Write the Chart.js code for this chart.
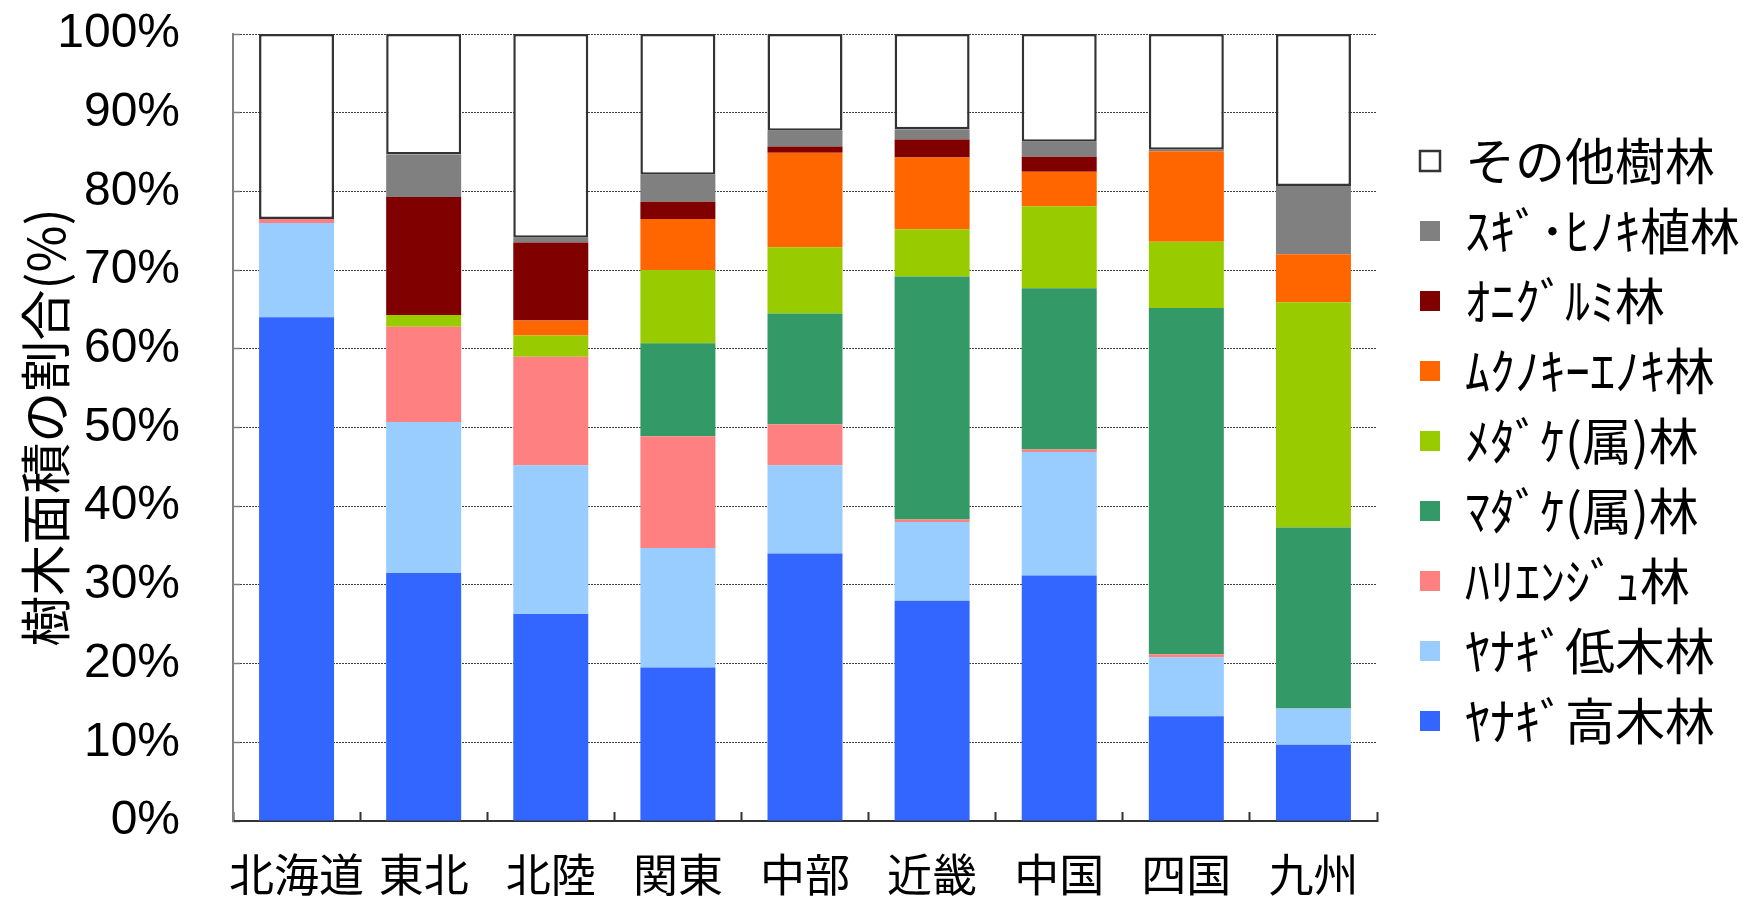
<!DOCTYPE html>
<html>
<head>
<meta charset="utf-8">
<script src="https://cdn.jsdelivr.net/npm/chart.js@4.4.1/dist/chart.umd.min.js"></script>
<style>
html,body{margin:0;padding:0;background:#ffffff;overflow:hidden;width:1763px;height:900px;}
#c{display:block;}
</style>
</head>
<body>
<canvas id="c" width="1763" height="900"></canvas>
<script>
// ---- data ----
const categories = ['北海道','東北','北陸','関東','中部','近畿','中国','四国','九州'];
const seriesNames = ['ﾔﾅｷﾞ高木林','ﾔﾅｷﾞ低木林','ﾊﾘｴﾝｼﾞｭ林','ﾏﾀﾞｹ(属)林','ﾒﾀﾞｹ(属)林','ﾑｸﾉｷｰｴﾉｷ林','ｵﾆｸﾞﾙﾐ林','ｽｷﾞ･ﾋﾉｷ植林','その他樹林'];
const yanagiKoboku  = [64.0, 31.5, 26.3, 19.5, 34.0, 28.0, 31.2, 13.3,  9.7];
const yanagiTeiboku = [12.0, 19.2, 18.9, 15.2, 11.2, 10.0, 15.7,  7.5,  4.6];
const harienju      = [ 0.5, 12.1, 13.8, 14.2,  5.2,  0.3,  0.3,  0.4,  0.0];
const madake        = [ 0.0,  0.0,  0.0, 11.8, 14.1, 30.9, 20.5, 44.0, 23.0];
const medake        = [ 0.0,  1.5,  2.7,  9.3,  8.4,  6.0, 10.4,  8.4, 28.6];
const mukunokiEnoki = [ 0.0,  0.0,  1.9,  6.5, 12.0,  9.1,  4.4, 11.5,  6.1];
const onigurumi     = [ 0.0, 15.0,  9.9,  2.2,  0.8,  2.3,  1.9,  0.0,  0.0];
const sugiHinoki    = [ 0.0,  5.4,  0.6,  3.4,  2.0,  1.3,  1.9,  0.2,  8.7];
const sonota        = [23.5, 15.3, 25.9, 17.9, 12.3, 12.1, 13.7, 14.7, 19.3];
const yTickLabels = ['0%','10%','20%','30%','40%','50%','60%','70%','80%','90%','100%'];
const yTitle = '樹木面積の割合(%)';

const seriesValues = [yanagiKoboku, yanagiTeiboku, harienju, madake, medake, mukunokiEnoki, onigurumi, sugiHinoki, sonota];
const seriesColors = ['#3366FF','#99CCFF','#FF8080','#339966','#99CC00','#FF6600','#800000','#808080','#FFFFFF'];

const cjk = "'Noto Sans CJK JP', 'Noto Sans', sans-serif";

new Chart(document.getElementById('c'), {
  type: 'bar',
  data: {
    labels: categories,
    datasets: seriesValues.map((vals, i) => ({
      label: seriesNames[i],
      data: vals,
      backgroundColor: seriesColors[i],
      borderColor: i === 8 ? '#333333' : seriesColors[i],
      borderWidth: i === 8 ? 2.5 : 0,
      borderSkipped: false,
      barPercentage: 0.59,
      categoryPercentage: 1.0
    }))
  },
  options: {
    responsive: false,
    devicePixelRatio: 1,
    animation: false,
    layout: { padding: { left: 0, right: 13, top: 34, bottom: 0 } },
    plugins: {
      legend: {
        position: 'right',
        align: 'start',
        reverse: true,
        maxWidth: 350,
        title: { display: true, text: '', padding: { top: 70, bottom: 0 }, font: { size: 10 } },
        labels: {
          boxWidth: 20,
          boxHeight: 20,
          padding: 20,
          color: '#000000',
          font: { family: cjk, size: 50 }
        }
      },
      tooltip: { enabled: false }
    },
    scales: {
      x: {
        stacked: true,
        grid: {
          display: true,
          offset: true,
          drawOnChartArea: false,
          drawTicks: true,
          tickLength: -9,
          tickColor: '#333333',
          tickWidth: 2
        },
        border: { display: true, color: '#333333', width: 2 },
        ticks: {
          color: '#000000',
          padding: 43,
          maxRotation: 0,
          autoSkip: false,
          font: { family: cjk, size: 45, lineHeight: 0.9 }
        },
        afterFit: s => { s.height = 79; }
      },
      y: {
        stacked: true,
        min: 0,
        max: 100,
        ticks: {
          stepSize: 10,
          color: '#000000',
          padding: 60,
          font: { family: "'Liberation Sans', Arial, sans-serif", size: 48 },
          callback: (v, i) => yTickLabels[i]
        },
        grid: { color: '#404040', lineWidth: 1, drawTicks: true, tickLength: -7, tickColor: '#808080', tickWidth: 1.5 },
        border: { display: true, color: '#808080', width: 2, dash: [2, 1] },
        title: {
          display: true,
          text: yTitle,
          color: '#000000',
          font: { family: cjk, size: 51 },
          padding: { top: 15, bottom: 0 }
        },
        afterFit: s => { s.width = 233; s.paddingTop = 0; s.paddingBottom = 0; }
      },
      y2: {
        position: 'right',
        display: true,
        grid: { display: false },
        border: { display: false },
        ticks: { display: false },
        afterFit: s => { s.width = 23; }
      }
    }
  }
});
</script>
</body>
</html>
